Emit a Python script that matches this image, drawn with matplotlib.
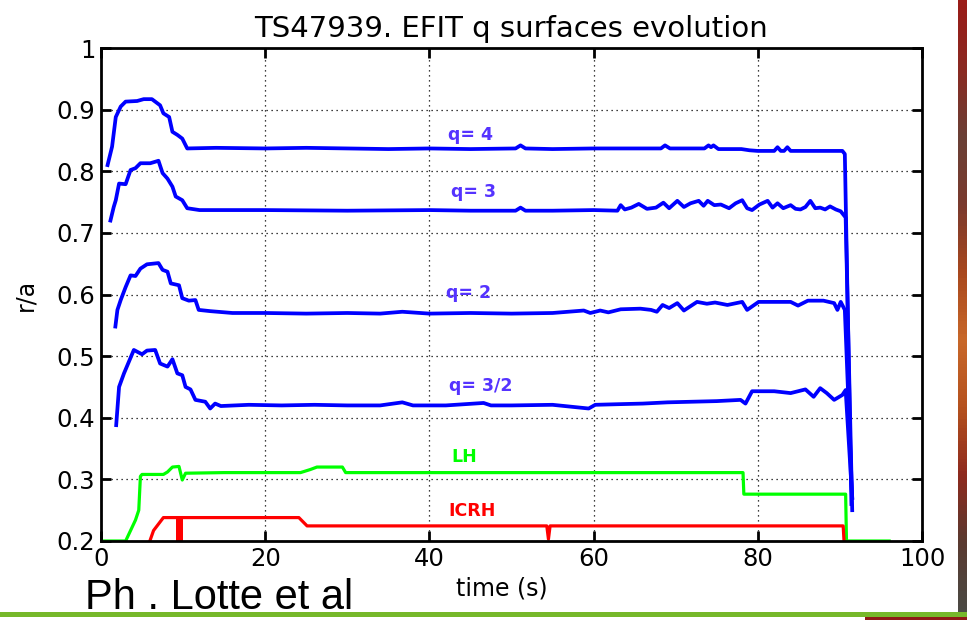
import numpy as np
import matplotlib
matplotlib.use("Agg")
import matplotlib.pyplot as plt
from matplotlib.colors import LinearSegmentedColormap

# ---- EFIT q-surface radii (r/a) versus time (s) ----
q4_t = [0.8, 1.35, 1.8, 2.4, 3.0, 4.4, 5.2, 6.2, 7.2, 7.6, 8.3, 8.7, 9.3, 9.9, 10.5,
        14, 20, 25, 30, 35, 40, 45, 50.5, 51.1, 51.7, 55, 60, 65, 68.2, 68.7, 69.3,
        73.5, 74.0, 74.3, 74.6, 75.2, 78, 79, 80, 82.0, 82.4, 82.8, 83.2, 83.6, 84.0,
        88, 90.3, 90.6, 91.4]
q4_r = [0.81, 0.84, 0.888, 0.905, 0.913, 0.914, 0.917, 0.917, 0.907, 0.894, 0.888,
        0.864, 0.859, 0.853, 0.837,
        0.838, 0.837, 0.838, 0.837, 0.836, 0.837, 0.836, 0.837, 0.842, 0.837, 0.836,
        0.837, 0.837, 0.837, 0.842, 0.837,
        0.837, 0.842, 0.839, 0.842, 0.836, 0.836, 0.834, 0.833, 0.833, 0.839, 0.833,
        0.833, 0.839, 0.833,
        0.833, 0.833, 0.828, 0.26]

q3_t = [1.15, 1.55, 1.8, 2.2, 3.0, 3.6, 4.2, 4.8, 6.0, 7.0, 7.5, 8.1, 8.7, 9.1, 9.9,
        10.5, 12, 20, 30, 40, 45, 50.5, 51.1, 51.7, 55, 60, 62.9, 63.3, 63.8, 64.6,
        65.5, 66.5, 67.6, 68.5, 69.2, 70.2, 71.0, 71.8, 72.8, 73.4, 73.9, 74.7, 75.5,
        76.5, 77.3, 78.1, 78.7, 79.3, 80.2, 81.2, 81.8, 82.4, 83.1, 84.0, 84.6, 85.2,
        85.8, 86.4, 87.0, 87.6, 88.2, 88.8, 89.5, 90.1, 90.7, 91.5]
q3_r = [0.72, 0.742, 0.753, 0.78, 0.779, 0.802, 0.805, 0.813, 0.813, 0.817, 0.797,
        0.788, 0.775, 0.759, 0.753,
        0.740, 0.737, 0.737, 0.736, 0.737, 0.736, 0.736, 0.741, 0.736, 0.736, 0.737,
        0.736, 0.745, 0.738, 0.741,
        0.747, 0.739, 0.741, 0.749, 0.740, 0.752, 0.742, 0.748, 0.752, 0.744, 0.752,
        0.745, 0.746,
        0.740, 0.748, 0.753, 0.740, 0.737, 0.746, 0.752, 0.741, 0.748, 0.740, 0.745,
        0.739, 0.738,
        0.742, 0.752, 0.740, 0.741, 0.738, 0.743, 0.738, 0.735, 0.725, 0.25]

q2_t = [1.75, 2.0, 2.4, 3.0, 3.6, 4.2, 4.8, 5.6, 7.0, 7.5, 8.1, 8.5, 9.5, 9.9, 10.7,
        11.5, 11.9, 13.3, 16, 20, 25, 30, 34, 36.7, 40, 45, 50, 55, 58.8, 59.6, 60.8,
        61.8, 63.3, 65.7, 67.0, 67.7, 68.4, 69.2, 70.2, 71.0, 72.6, 73.8, 74.8, 76.3,
        78.1, 78.7, 80.1, 82, 84.0, 84.9, 86.1, 88.0, 89.3, 89.7, 90.1, 90.6, 91.5]
q2_r = [0.548, 0.575, 0.591, 0.612, 0.631, 0.630, 0.642, 0.649, 0.651, 0.640, 0.637,
        0.618, 0.615, 0.594, 0.590,
        0.591, 0.575, 0.573, 0.570, 0.570, 0.569, 0.570, 0.569, 0.572, 0.569, 0.570,
        0.569, 0.570, 0.574, 0.570, 0.574,
        0.571, 0.576, 0.577, 0.575, 0.572, 0.583, 0.578, 0.586, 0.574, 0.588, 0.585,
        0.587, 0.583,
        0.588, 0.575, 0.588, 0.588, 0.588, 0.582, 0.590, 0.590, 0.586, 0.575, 0.588,
        0.575, 0.27]

q32_t = [1.85, 2.2, 2.8, 3.4, 4.0, 5.0, 5.6, 6.6, 7.2, 8.1, 8.7, 9.3, 9.9, 10.3, 10.9,
         11.5, 12.7, 13.3, 13.9, 14.6, 18, 22, 26, 30, 34, 36.7, 38, 42, 46.6, 47.5,
         50, 55, 59.4, 60.2, 63, 66, 69, 72, 75, 77.9, 78.5, 79.3, 82, 84.0, 85.8,
         86.8, 87.6, 88.4, 89.3, 90.3, 90.7, 91.5]
q32_r = [0.388, 0.450, 0.472, 0.491, 0.510, 0.503, 0.509, 0.510, 0.488, 0.483, 0.495,
         0.472, 0.469, 0.450, 0.446,
         0.429, 0.426, 0.415, 0.423, 0.419, 0.421, 0.420, 0.421, 0.420, 0.420, 0.425,
         0.420, 0.420, 0.424, 0.420,
         0.420, 0.421, 0.415, 0.421, 0.422, 0.423, 0.425, 0.426, 0.427, 0.429, 0.423,
         0.443, 0.443, 0.440, 0.446,
         0.434, 0.448, 0.440, 0.429, 0.437, 0.445, 0.27]

# ---- heating power traces (scaled onto the same axis) ----
lh_t = [0, 3.0, 4.2, 4.6, 4.8, 5.0, 7.6, 8.1, 8.7, 9.5, 9.9, 10.3, 15, 20, 24.3, 25.5,
        26.3, 29.4, 29.8, 35, 40, 50, 60, 70, 78.2, 78.3, 90.7, 90.8, 96]
lh_r = [0.2, 0.2, 0.234, 0.25, 0.305, 0.308, 0.308, 0.312, 0.320, 0.321, 0.299, 0.310,
        0.311, 0.311, 0.311, 0.316,
        0.320, 0.320, 0.311, 0.311, 0.311, 0.311, 0.311, 0.311, 0.311, 0.276, 0.276,
        0.2, 0.2]

icrh_t = [5.95, 6.4, 7.6, 24.1, 25.1, 54.3, 54.5, 54.7, 90.4, 90.5]
icrh_r = [0.2, 0.217, 0.238, 0.238, 0.2245, 0.2245, 0.203, 0.2245, 0.2245, 0.2]
icrh_trip_t = [9.1, 10.0]     # repeated trips of the ICRH generator
icrh_trip_top = 0.238

labels = ["q= 4", "q= 3", "q= 2", "q= 3/2", "LH", "ICRH"]
label_t = [45.0, 45.4, 44.8, 46.3, 44.2, 45.2]
label_r = [0.859, 0.767, 0.602, 0.452, 0.337, 0.248]

x_ticks = [0, 20, 40, 60, 80, 100]
y_ticks = [0.2, 0.3, 0.4, 0.5, 0.6, 0.7, 0.8, 0.9, 1]
y_ticklabels = ["0.2", "0.3", "0.4", "0.5", "0.6", "0.7", "0.8", "0.9", "1"]

BLUE = "#0000ff"
GREEN = "#00ff00"
RED = "#ff0000"
LABEL_BLUE = "#5533ff"

W, H = 967, 620
fig = plt.figure(figsize=(W / 100, H / 100), dpi=100)
fig.patch.set_facecolor("white")

# slide decoration: textured strip on the right and a green rule at the bottom
deco = fig.add_axes([958 / W, 8 / H, 9 / W, 1 - 8 / H])
deco.axis("off")
strip_cmap = LinearSegmentedColormap.from_list(
    "strip", ["#4b4a44", "#5a3a30", "#8e2a1e", "#b5521f", "#c8682a", "#a8481e",
              "#7a3a2e", "#6a4036", "#8a2a22", "#9a1c18"])
deco.imshow(np.linspace(1, 0, 200).reshape(-1, 1), aspect="auto", cmap=strip_cmap,
            extent=[0, 1, 0, 1])
fig.patches.append(plt.Rectangle((0, 3 / H), 1, 5 / H, transform=fig.transFigure,
                                 facecolor="#76b82a", edgecolor="none"))
fig.patches.append(plt.Rectangle((865 / W, 0), 1, 3 / H, transform=fig.transFigure,
                                 facecolor="#8e1a16", edgecolor="none"))

ax = fig.add_axes([101 / W, 1 - 541 / H, 821 / W, 493 / H])

TICK_FONT = {"family": "DejaVu Sans", "size": 17.5}

ax.plot(lh_t, lh_r, color=GREEN, lw=2.3, solid_joinstyle="round")
ax.plot(icrh_t, icrh_r, color=RED, lw=2.3, solid_joinstyle="round")
ax.fill_between(icrh_trip_t, 0.2, icrh_trip_top, color=RED, lw=0)
for t, r in [(q4_t, q4_r), (q3_t, q3_r), (q2_t, q2_r), (q32_t, q32_r)]:
    ax.plot(t, r, color=BLUE, lw=2.7, solid_joinstyle="round")

label_colors = [LABEL_BLUE] * 4 + [GREEN, RED]
for s, t, r, c in zip(labels, label_t, label_r, label_colors):
    ax.text(t, r, s, color=c, ha="center", va="center", fontsize=12.5,
            fontweight="bold", family="DejaVu Sans")

ax.set_xlim(0, 100)
ax.set_ylim(0.2, 1)
ax.set_xticks(x_ticks)
ax.set_xticklabels([str(v) for v in x_ticks], fontdict=TICK_FONT)
ax.set_yticks(y_ticks)
ax.set_yticklabels(y_ticklabels, fontdict=TICK_FONT)
ax.grid(True, color="black", linestyle=(0, (1, 3)), linewidth=0.9)
ax.tick_params(direction="in", length=7, width=2, top=True, right=True, pad=4)
for sp in ax.spines.values():
    sp.set_linewidth(2)

ax.set_title("TS47939. EFIT q surfaces evolution", fontsize=21, family="DejaVu Sans",
             pad=8)
ax.set_xlabel("time (s)", fontsize=17, family="DejaVu Sans")
ax.xaxis.set_label_coords(0.488, -0.072)
ax.set_ylabel("r/a", fontsize=17, family="DejaVu Sans", labelpad=14)

fig.text(85 / W, 1 - 609 / H, "Ph . Lotte et al", fontsize=30,
         family="Liberation Sans", ha="left", va="baseline")

fig.savefig("out.png", dpi=100)
